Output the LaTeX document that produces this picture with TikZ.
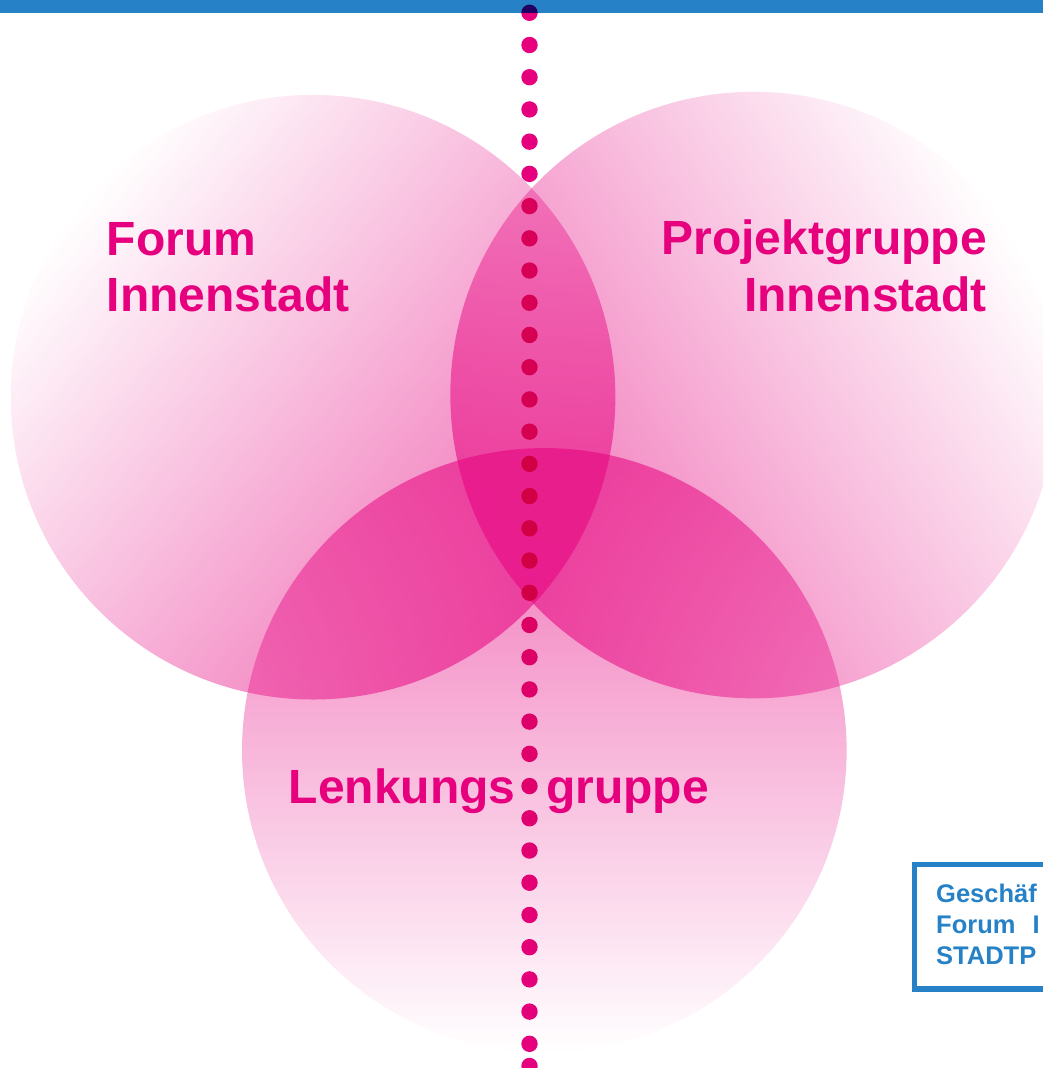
\documentclass[tikz,border=0pt]{standalone}
\usepackage{fontspec}
\setmainfont{Liberation Sans}
\usetikzlibrary{fadings}

\definecolor{rubin}{RGB}{230,0,126}
\definecolor{barblue}{RGB}{38,129,198}

% one fading for all three circles, turned per circle
\tikzfading[name=circfade, left color=transparent!100, right color=transparent!43]

\tikzset{
  venn/.style={fill=rubin, path fading=circfade, fit fading=true,
    fading transform={rotate=#1}},
  grouplabel/.style={inner sep=0pt, text=rubin,
    font=\fontsize{48}{55}\selectfont\bfseries},
  officelabel/.style={inner sep=0pt, text=barblue,
    font=\fontsize{25.5}{31}\selectfont\bfseries},
}

\begin{document}
\begin{tikzpicture}[scale=1.000000,x=1pt,y=1pt]
\useasboundingbox (0.000000,0.000000) rectangle (1042.000000,1068.000000);
% Drawing the bar on top
\fill[barblue] (-2.000000,1055.300000) rectangle (1044.000000,1070.000000);
% Drawing the circles
\fill[venn=-40] (315.000000,671.000000) circle(303.000000pt);
\fill[venn=-148] (753.000000,671.000000) circle(304.000000pt);
\fill[venn=90] (543.000000,319.000000) circle(303.000000pt);
% Dotted divider, multiplied onto whatever lies below
\begin{scope}[blend mode=multiply]
\foreach \k in {0,...,32}
  \fill[rubin] (529.500000,{1055.2-32.22*\k}) circle(8.200000pt);
\fill[rubin] (529.500000,2.000000) circle(8.200000pt);
\end{scope}
% Group names
\node[grouplabel, anchor=base west] (forum) at (106.500000,812.000000) {Forum};
\node[grouplabel, anchor=base west] (forumcity) at (106.500000,756.300000) {Innenstadt};
\node[grouplabel, anchor=base east] (project) at (987.000000,813.000000) {Projektgruppe};
\node[grouplabel, anchor=base east] (projectcity) at (987.000000,756.300000) {Innenstadt};
\node[grouplabel, anchor=base west] (steering) at (288.500000,264.000000) {Lenkungs};
\node[grouplabel, anchor=base west] (steeringgroup) at (546.000000,264.000000) {gruppe};
% Office box, runs off the right edge
\draw[barblue, line width=5.2pt] (914.500000,203.500000) rectangle (1070.000000,79.000000);
\node[officelabel, anchor=base west] (office) at (936.000000,165.000000) {Geschäf};
\node[officelabel, anchor=base west] (officeforum) at (936.000000,134.000000) {Forum\hspace{17pt}I};
\node[officelabel, anchor=base west] (officeplan) at (936.000000,103.000000) {STADTP};
\end{tikzpicture}
\end{document}
